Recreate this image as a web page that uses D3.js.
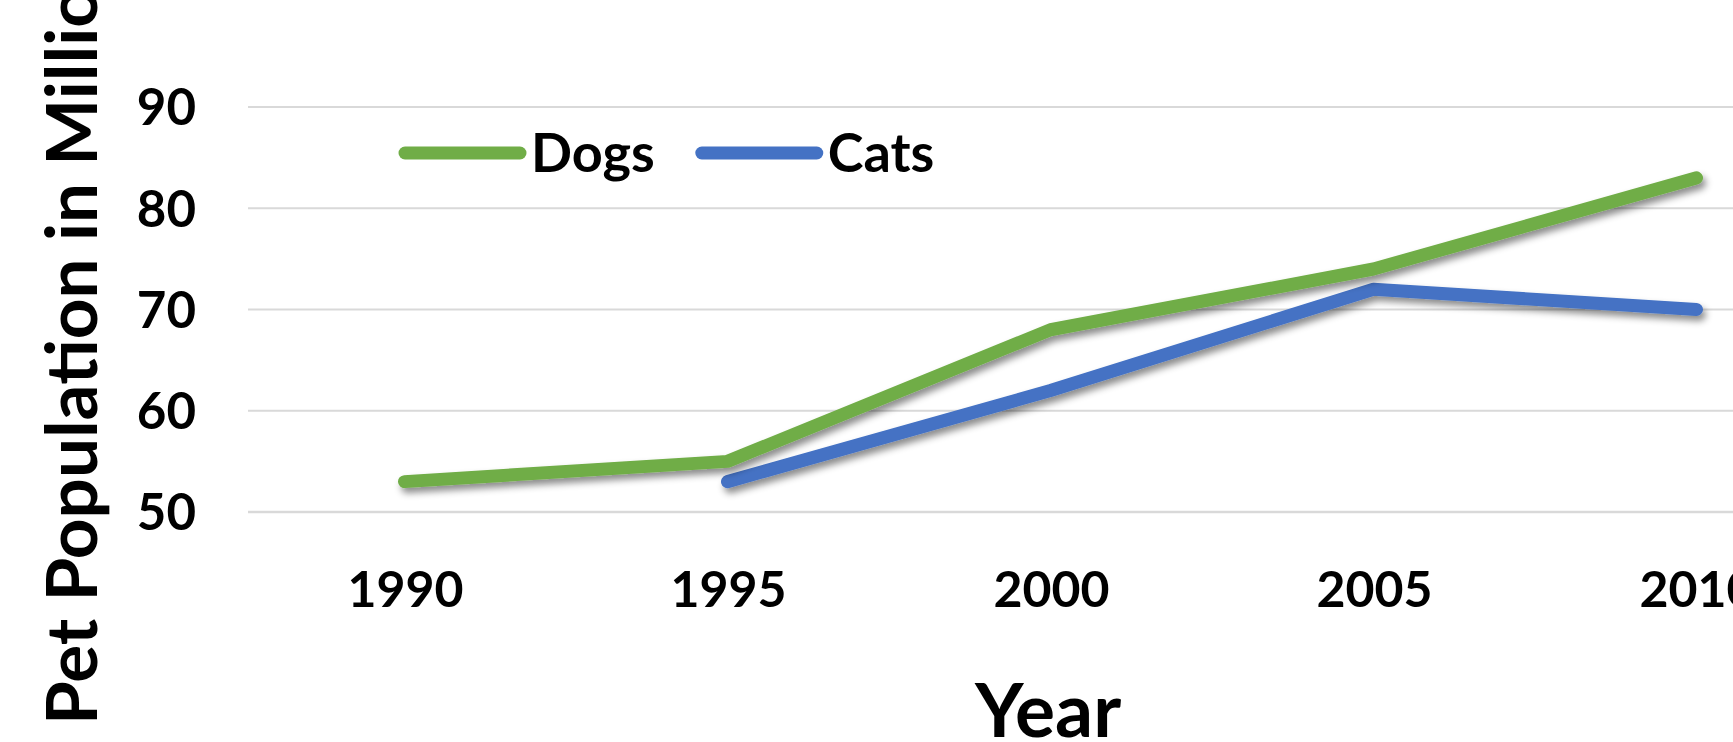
<!DOCTYPE html>
<html>
<head>
<meta charset="utf-8">
<script src="https://cdn.jsdelivr.net/npm/d3@7"></script>
<style>
  html, body { margin: 0; padding: 0; background: #fff; overflow: hidden; }
  svg { display: block; font-family: Lato, "Open Sans", sans-serif; font-weight: 700; }
</style>
</head>
<body>
<svg id="chart"></svg>
<script>
const years = ["1990", "1995", "2000", "2005", "2010"];
const seriesNames = ["Dogs", "Cats"];
const dogs = [53, 55, 68, 74, 83];
const cats = [null, 53, 62, 72, 70];
const yTicks = [50, 60, 70, 80, 90];
const colors = ["#70AD47", "#4472C4"];

const width = 1733;
const height = 742;

const svg = d3.select("#chart").attr("width", width).attr("height", height);

const defs = svg.append("defs");
const shadow = defs.append("filter").attr("id", "shadow")
    .attr("x", "-10%").attr("y", "-20%").attr("width", "130%").attr("height", "160%");
shadow.append("feDropShadow")
    .attr("dx", 3).attr("dy", 5).attr("stdDeviation", 3.5)
    .attr("flood-color", "#000").attr("flood-opacity", 0.45);

// plot area runs past the right edge, like the cropped original
const plotLeft = 243;
const plotRight = 1858;

const x = d3.scalePoint().domain(years).range([plotLeft, plotRight]).padding(0.5);
const y = d3.scaleLinear().domain([50, 90]).range([512, 107]);

// gridlines
svg.append("g")
    .selectAll("line")
    .data(yTicks)
    .join("line")
    .attr("x1", 248)
    .attr("x2", width)
    .attr("y1", (d) => y(d))
    .attr("y2", (d) => y(d))
    .attr("stroke", "#d9d9d9")
    .attr("stroke-width", (d) => (d === 50 ? 2.5 : 2));

// y tick labels
svg.append("g")
    .selectAll("text")
    .data(yTicks)
    .join("text")
    .attr("x", 196)
    .attr("y", (d) => y(d))
    .attr("dy", "0.36em")
    .attr("text-anchor", "end")
    .attr("font-size", 51)
    .attr("fill", "#000")
    .text((d) => d);

// x tick labels
svg.append("g")
    .selectAll("text")
    .data(years)
    .join("text")
    .attr("x", (d) => x(d) + 1)
    .attr("y", 607)
    .attr("text-anchor", "middle")
    .attr("font-size", 50)
    .attr("fill", "#000")
    .text((d) => d);

// series lines
const series = [
    { name: seriesNames[0], values: dogs, color: colors[0] },
    { name: seriesNames[1], values: cats, color: colors[1] }
];

const line = d3.line()
    .defined((d) => d.v !== null)
    .x((d) => x(d.year))
    .y((d) => y(d.v));

svg.append("g")
    .selectAll("path")
    .data(series.slice().reverse())
    .join("path")
    .attr("d", (s) => line(years.map((yr, i) => ({ year: yr, v: s.values[i] }))))
    .attr("fill", "none")
    .attr("stroke", (s) => s.color)
    .attr("stroke-width", 13)
    .attr("stroke-linecap", "round")
    .attr("stroke-linejoin", "round")
    .attr("filter", "url(#shadow)");

// legend
const legend = svg.append("g");
let lx = 405;
series.forEach((s) => {
    legend.append("line")
        .attr("x1", lx).attr("x2", lx + 115)
        .attr("y1", 153).attr("y2", 153)
        .attr("stroke", s.color)
        .attr("stroke-width", 13)
        .attr("stroke-linecap", "round");
    const t = legend.append("text")
        .attr("x", lx + 126)
        .attr("y", 172)
        .attr("font-size", 54)
        .attr("fill", "#000")
        .text(s.name);
    lx += 126 + t.node().getComputedTextLength() + 47;
});

// axis titles
svg.append("text")
    .attr("x", 1048)
    .attr("y", 737)
    .attr("text-anchor", "middle")
    .attr("font-size", 75)
    .attr("fill", "#000")
    .text("Year");

svg.append("text")
    .attr("transform", "translate(97,725) rotate(-90)")
    .attr("font-size", 71)
    .attr("fill", "#000")
    .text("Pet Population in Millions");

// chart title, almost entirely above the visible area
svg.append("text")
    .attr("x", 1050)
    .attr("y", -13)
    .attr("text-anchor", "middle")
    .attr("font-size", 62)
    .attr("fill", "#000")
    .text("Pet Population");
</script>
</body>
</html>
